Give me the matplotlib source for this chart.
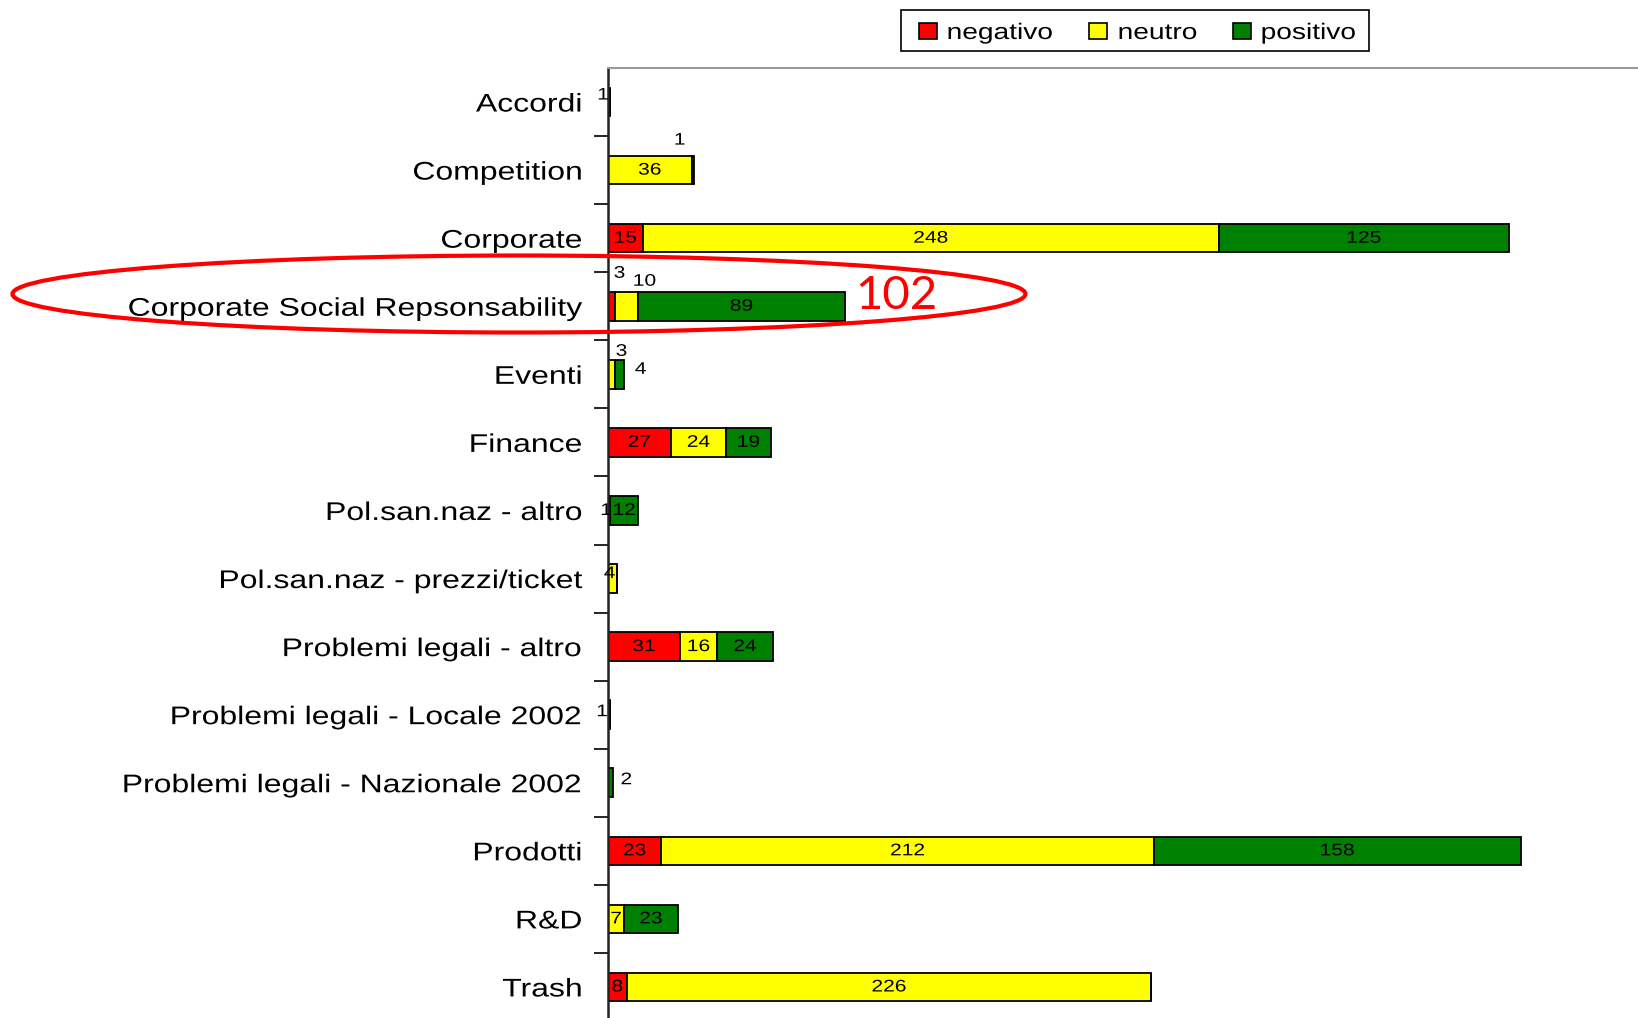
import numpy as np
import matplotlib
matplotlib.use("Agg")
from matplotlib import pyplot as plt
from matplotlib import patheffects
from matplotlib.patches import Ellipse, Rectangle
from matplotlib.transforms import Affine2D

plt.rcParams['font.family'] = ['Liberation Sans', 'DejaVu Sans']

categories = ["Accordi", "Competition", "Corporate", "Corporate Social Repsonsability",
              "Eventi", "Finance", "Pol.san.naz - altro", "Pol.san.naz - prezzi/ticket",
              "Problemi legali - altro", "Problemi legali - Locale 2002",
              "Problemi legali - Nazionale 2002", "Prodotti", "R&D", "Trash"]
negativo = [1, 0, 15, 3, 0, 27, 1, 0, 31, 1, 0, 23, 0, 8]
neutro   = [0, 36, 248, 10, 3, 24, 0, 4, 16, 0, 0, 212, 7, 226]
positivo = [0, 1, 125, 89, 4, 19, 12, 0, 24, 0, 2, 158, 23, 0]
series_names = ["negativo", "neutro", "positivo"]
colors = ["#ff0000", "#ffff00", "#008000"]

# labels that were moved by hand in the original (pixel offsets from the segment centre)
moved = {(0, 0): (-6, 7), (1, 2): (-13, 30), (3, 0): (8, 33), (3, 1): (18, 25),
         (4, 1): (10, 23), (4, 2): (21, 5), (6, 0): (-3, 0), (7, 1): (-3, 5),
         (9, 0): (-7, 3), (10, 2): (16, 3)}


# the original text is rendered horizontally stretched, so widen the glyphs
class Stretch(patheffects.AbstractPathEffect):
    def __init__(self, sx, anchor):
        super().__init__()
        self.sx = sx
        self.anchor = anchor

    def draw_path(self, renderer, gc, tpath, affine, rgbFace=None):
        ext = tpath.transformed(affine).get_extents()
        x0 = {"left": ext.x0, "right": ext.x1, "center": (ext.x0 + ext.x1) / 2}[self.anchor]
        affine = affine + Affine2D().translate(-x0, 0).scale(self.sx, 1).translate(x0, 0)
        renderer.draw_path(gc, tpath, affine, rgbFace)


SX = 1.25

fig = plt.figure(figsize=(16.38, 10.18), dpi=100)
ax = fig.add_axes([608 / 1638, -3 / 1018, 1 - 608 / 1638, 953 / 1018])

y = np.arange(len(categories))
left = np.zeros(len(categories))
for s, vals in enumerate([negativo, neutro, positivo]):
    vals = np.array(vals, dtype=float)
    ax.barh(y, vals, left=left, height=0.42, color=colors[s], edgecolor="black",
            linewidth=1.3, zorder=2)
    for i, v in enumerate(vals):
        if v == 0:
            continue
        cx = left[i] + v / 2
        dx, dy = moved.get((i, s), (0, 0))
        ax.annotate(str(int(v)), (cx, y[i]), xytext=(dx, dy), textcoords="offset pixels",
                    ha="center", va="center", fontsize=12.1, color="black", zorder=5,
                    path_effects=[Stretch(SX, "center")])
    left += vals

ax.set_xlim(0, 443.5)
ax.set_ylim(len(categories) - 0.5, -0.5)
ax.set_xticks([])
ax.set_yticks(y)
ax.set_yticklabels(categories, fontsize=18.4)
for t in ax.get_yticklabels():
    t.set_path_effects([Stretch(SX, "right")])
ax.set_yticks(np.arange(0.5, len(categories) - 0.5, 1), minor=True)
ax.tick_params(axis="y", which="major", length=0, pad=18.7)
ax.tick_params(axis="y", which="minor", length=10, width=1.2, direction="out", color="black")
ax.spines["right"].set_visible(False)
ax.spines["bottom"].set_visible(False)
ax.spines["left"].set_linewidth(1.8)
ax.spines["left"].set_color("#222222")
ax.spines["top"].set_color("#999999")
ax.spines["top"].set_linewidth(1.5)

# legend drawn by hand (pixel positions in the 1638x1018 figure)
W, H = 1638, 1018
fig.patches.append(Rectangle((901 / W, 1 - 51 / H), 468 / W, 41 / H, transform=fig.transFigure,
                             facecolor="white", edgecolor="black", linewidth=1.2))
box_x = [919, 1089, 1233]
text_x = [947, 1118, 1261]
for c, name, bx, tx in zip(colors, series_names, box_x, text_x):
    fig.patches.append(Rectangle((bx / W, 1 - 39 / H), 18 / W, 16 / H, transform=fig.transFigure,
                                 facecolor=c, edgecolor="black", linewidth=1.2))
    fig.text(tx / W, 1 - 31 / H, name, fontsize=16.2, ha="left", va="center_baseline",
             path_effects=[Stretch(SX, "left")])

# hand-drawn highlight around the CSR row
ell = Ellipse((519 / W, 1 - 294 / H), 1013 / W, 77 / H, transform=fig.transFigure,
              fill=False, edgecolor="#ff0000", linewidth=3, zorder=10)
fig.patches.append(ell)
fig.text(896 / W, 1 - 296 / H, "102", color="#ff0000", fontsize=34,
         ha="center", va="center", family=["Lato", "DejaVu Sans"])

fig.savefig("out.png", dpi=100)
